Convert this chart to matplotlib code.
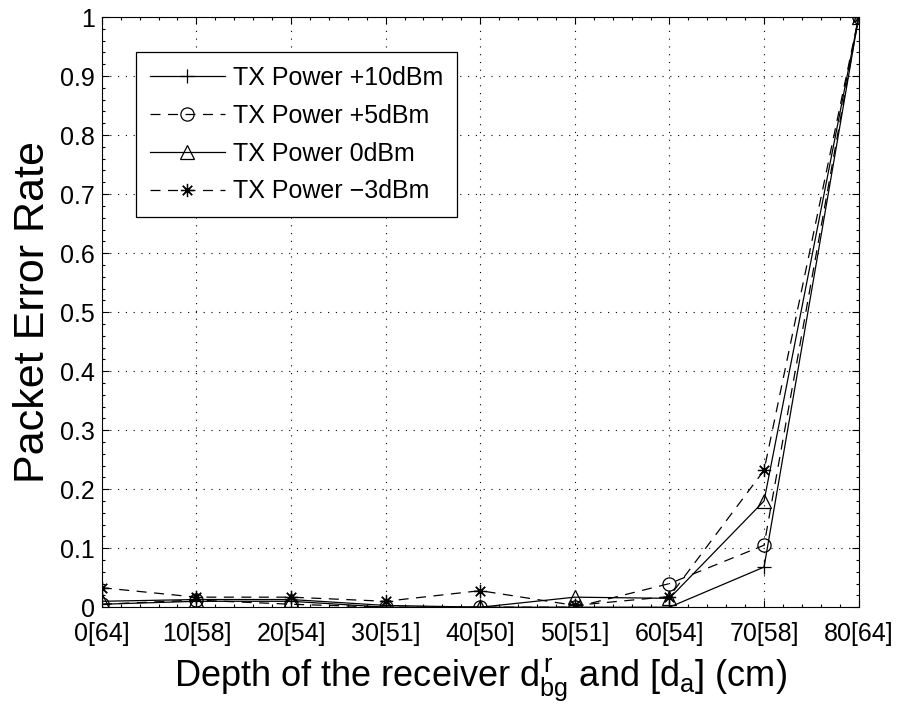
import numpy as np
import matplotlib
matplotlib.use('Agg')
import matplotlib.pyplot as plt
from matplotlib.ticker import MultipleLocator

plt.rcParams['font.family'] = ['Liberation Sans', 'DejaVu Sans']
plt.rcParams['mathtext.fontset'] = 'custom'
plt.rcParams['mathtext.rm'] = 'Liberation Sans'
plt.rcParams['mathtext.it'] = 'Liberation Sans'

# depth of receiver [antenna distance]
depth = [0, 10, 20, 30, 40, 50, 60, 70, 80]
tick_labels = ['0[64]', '10[58]', '20[54]', '30[51]', '40[50]',
               '50[51]', '60[54]', '70[58]', '80[64]']

per_p10 = [0.005, 0.010, 0.010, 0.000, 0.000, 0.000, 0.000, 0.068, 1.0]
per_p5 = [0.005, 0.012, 0.005, 0.000, 0.000, 0.000, 0.040, 0.105, 1.0]
per_0 = [0.010, 0.013, 0.013, 0.003, 0.000, 0.017, 0.015, 0.180, 1.0]
per_m3 = [0.033, 0.017, 0.017, 0.010, 0.028, 0.003, 0.018, 0.232, 1.0]

fig = plt.figure(figsize=(9.01, 7.11), dpi=100)
ax = fig.add_axes([0.113, 0.146, 0.840, 0.830])

dash = (0, (8, 6))
star = (8, 2, 0)
kw = dict(color='k', lw=0.9, ms=9.5, mfc='none', mew=0.9)
ax.plot(depth, per_p10, '-', marker='+', label='TX Power +10dBm', **kw)
ax.plot(depth, per_p5, linestyle=dash, marker='o', label='TX Power +5dBm', **kw)
ax.plot(depth, per_0, '-', marker='^', label='TX Power 0dBm', **kw)
ax.plot(depth, per_m3, linestyle=dash, marker=star, label='TX Power \u22123dBm', **kw)

ax.set_xlim(0, 80)
ax.set_ylim(0, 1)
ax.set_xticks(depth)
ax.set_xticklabels(tick_labels, fontsize=18)
ax.set_yticks(np.arange(0, 1.01, 0.1))
ax.set_yticklabels(['0'] + ['%.1f' % v for v in np.arange(0.1, 0.95, 0.1)] + ['1'],
                   fontsize=18)
ax.xaxis.set_minor_locator(MultipleLocator(2))
ax.yaxis.set_minor_locator(MultipleLocator(0.02))
ax.tick_params(which='both', direction='in', top=True, right=True, width=0.8)
ax.tick_params(which='major', length=5)
ax.tick_params(axis='x', pad=11)
ax.tick_params(axis='y', pad=5)
ax.tick_params(which='minor', length=2.5)
ax.grid(True, which='major', color='k', linestyle=(0, (1, 6)), lw=0.8)
for s in ax.spines.values():
    s.set_linewidth(0.8)

ax.set_ylabel('Packet Error Rate', fontsize=31, labelpad=5)
ax.set_xlabel(r'Depth of the receiver $\mathregular{d^{\,r}_{bg}}$ and [$\mathregular{d_a}$] (cm)',
              fontsize=26, labelpad=7)

leg = ax.legend(loc='upper left', bbox_to_anchor=(0.045, 0.94), fontsize=18,
                handlelength=3.0, fancybox=False, framealpha=1, edgecolor='k',
                borderpad=0.55, labelspacing=0.55, handletextpad=0.35,
                borderaxespad=0)
leg.get_frame().set_linewidth(0.9)

fig.savefig('out.png', dpi=100)
